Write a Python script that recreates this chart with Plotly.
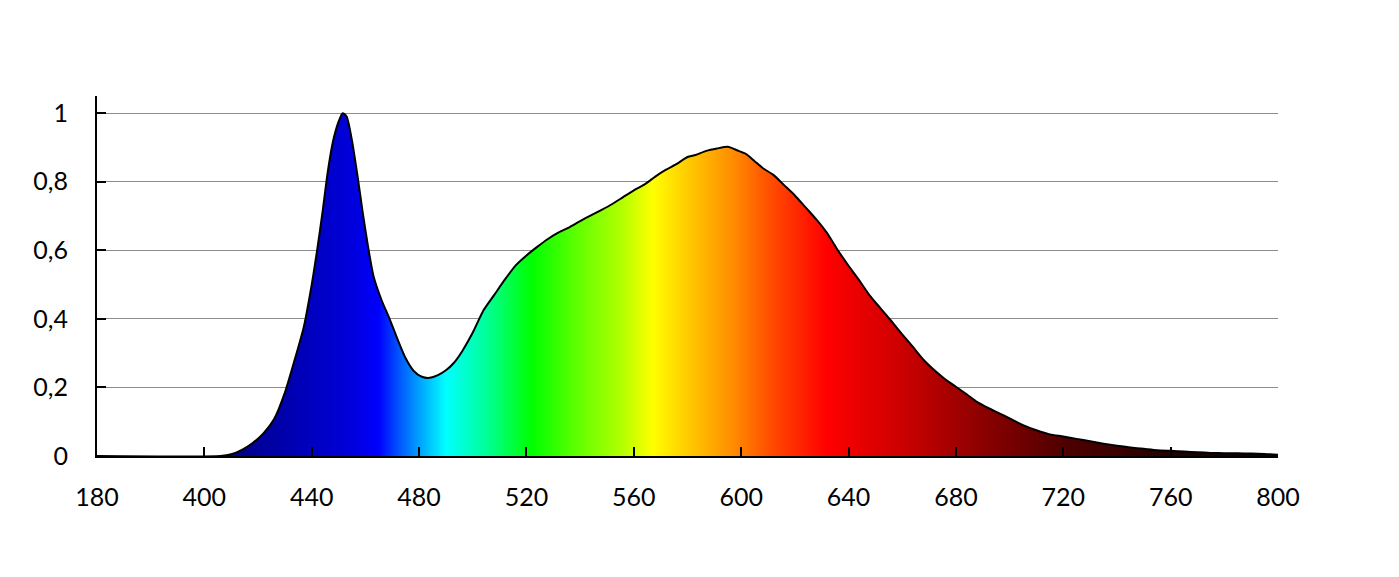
import plotly.graph_objects as go

# ── Spectrum data (wavelength in nm, relative intensity) ─────────
wavelength = [360, 406, 410, 414, 418, 422, 426, 430, 434, 437, 440, 442, 444, 446, 448,
              450, 451.5, 453, 455, 457, 459, 461, 463, 466, 469, 472, 475, 478, 481,
              484, 487, 490, 493, 496, 500, 504, 508, 512, 516, 520, 524, 528, 532,
              536, 540, 544, 548, 552, 556, 560, 564, 568, 572, 576, 580, 583, 587,
              591, 595, 599, 602, 605, 608, 612, 616, 620, 624, 628, 632, 636, 640,
              644, 648, 652, 656, 660, 664, 668, 672, 676, 680, 684, 688, 692, 696,
              700, 705, 710, 715, 720, 725, 730, 735, 740, 745, 750, 755, 760, 765,
              770, 775, 780, 785, 790, 795, 800]
intensity = [0, 0, 0.005, 0.018, 0.038, 0.066, 0.108, 0.185, 0.29, 0.375, 0.50, 0.60, 0.71,
             0.83, 0.92, 0.975, 1.0, 0.99, 0.92, 0.82, 0.71, 0.61, 0.525, 0.455, 0.40,
             0.34, 0.285, 0.248, 0.231, 0.228, 0.236, 0.25, 0.272, 0.305, 0.36, 0.425,
             0.47, 0.515, 0.556, 0.585, 0.61, 0.633, 0.652, 0.667, 0.685, 0.702, 0.718,
             0.735, 0.755, 0.775, 0.792, 0.815, 0.835, 0.852, 0.872, 0.878, 0.89, 0.897,
             0.902, 0.89, 0.88, 0.86, 0.84, 0.82, 0.79, 0.76, 0.725, 0.69, 0.65, 0.6,
             0.555, 0.512, 0.467, 0.43, 0.393, 0.355, 0.318, 0.28, 0.25, 0.224, 0.202,
             0.18, 0.157, 0.14, 0.125, 0.11, 0.09, 0.075, 0.063, 0.057, 0.05, 0.043,
             0.036, 0.03, 0.025, 0.021, 0.017, 0.015, 0.013, 0.011, 0.009, 0.008, 0.008,
             0.007, 0.006, 0.004]

# spectral colours along the wavelength axis
color_nm = [408, 420, 440, 455, 465, 472, 480, 490, 505, 522, 540, 555, 567, 582, 597,
            612, 632, 660, 690, 720, 760, 800]
color_hex = ['#000080', '#00009a', '#0000c0', '#0000dc', '#0000ff', '#0050ff', '#00a0ff',
             '#00ffff', '#00ff99', '#00ff00', '#66ff00', '#b0ff00', '#ffff00', '#ffc400',
             '#ff8c00', '#ff4800', '#ff0000', '#cc0000', '#8c0000', '#500000', '#250000',
             '#0a0000']

x_tickvals = [360, 400, 440, 480, 520, 560, 600, 640, 680, 720, 760, 800]
x_ticktext = ['180', '400', '440', '480', '520', '560', '600', '640', '680', '720', '760', '800']
y_tickvals = [0, 0.2, 0.4, 0.6, 0.8, 1]
y_ticktext = ['0', '0,2', '0,4', '0,6', '0,8', '1']

lo, hi = color_nm[0], color_nm[-1]
colorscale = [[(n - lo) / (hi - lo), c] for n, c in zip(color_nm, color_hex)]

fig = go.Figure()
fig.add_trace(go.Scatter(
    x=wavelength,
    y=intensity,
    mode='lines',
    line=dict(color='black', width=2, shape='spline', smoothing=0.6),
    fill='tozeroy',
    fillgradient=dict(type='horizontal', colorscale=colorscale, start=lo, stop=hi),
    showlegend=False,
    hoverinfo='skip'
))

axis_font = dict(family='Lato, sans-serif', size=25, color='black')

# page body adds 8px offset, so margins are trimmed to keep the plot in place
fig.update_layout(
    width=1399, height=577,
    margin=dict(l=89, r=129, t=88, b=129),
    plot_bgcolor='white',
    paper_bgcolor='white',
    showlegend=False
)

fig.update_xaxes(
    range=[360, 800],
    tickvals=x_tickvals, ticktext=x_ticktext,
    ticks='inside', ticklen=9, tickwidth=2, tickcolor='black',
    showline=True, linecolor='black', linewidth=2,
    showgrid=False, zeroline=False,
    tickfont=axis_font, ticklabelstandoff=18
)
fig.update_yaxes(
    range=[0, 1.05],
    tickvals=y_tickvals, ticktext=y_ticktext,
    ticks='inside', ticklen=9, tickwidth=2, tickcolor='black',
    showline=True, linecolor='black', linewidth=2,
    showgrid=True, gridcolor='#8c8c8c', gridwidth=1,
    zeroline=False,
    tickfont=axis_font, ticklabelstandoff=22
)

fig.write_html("out.html")
